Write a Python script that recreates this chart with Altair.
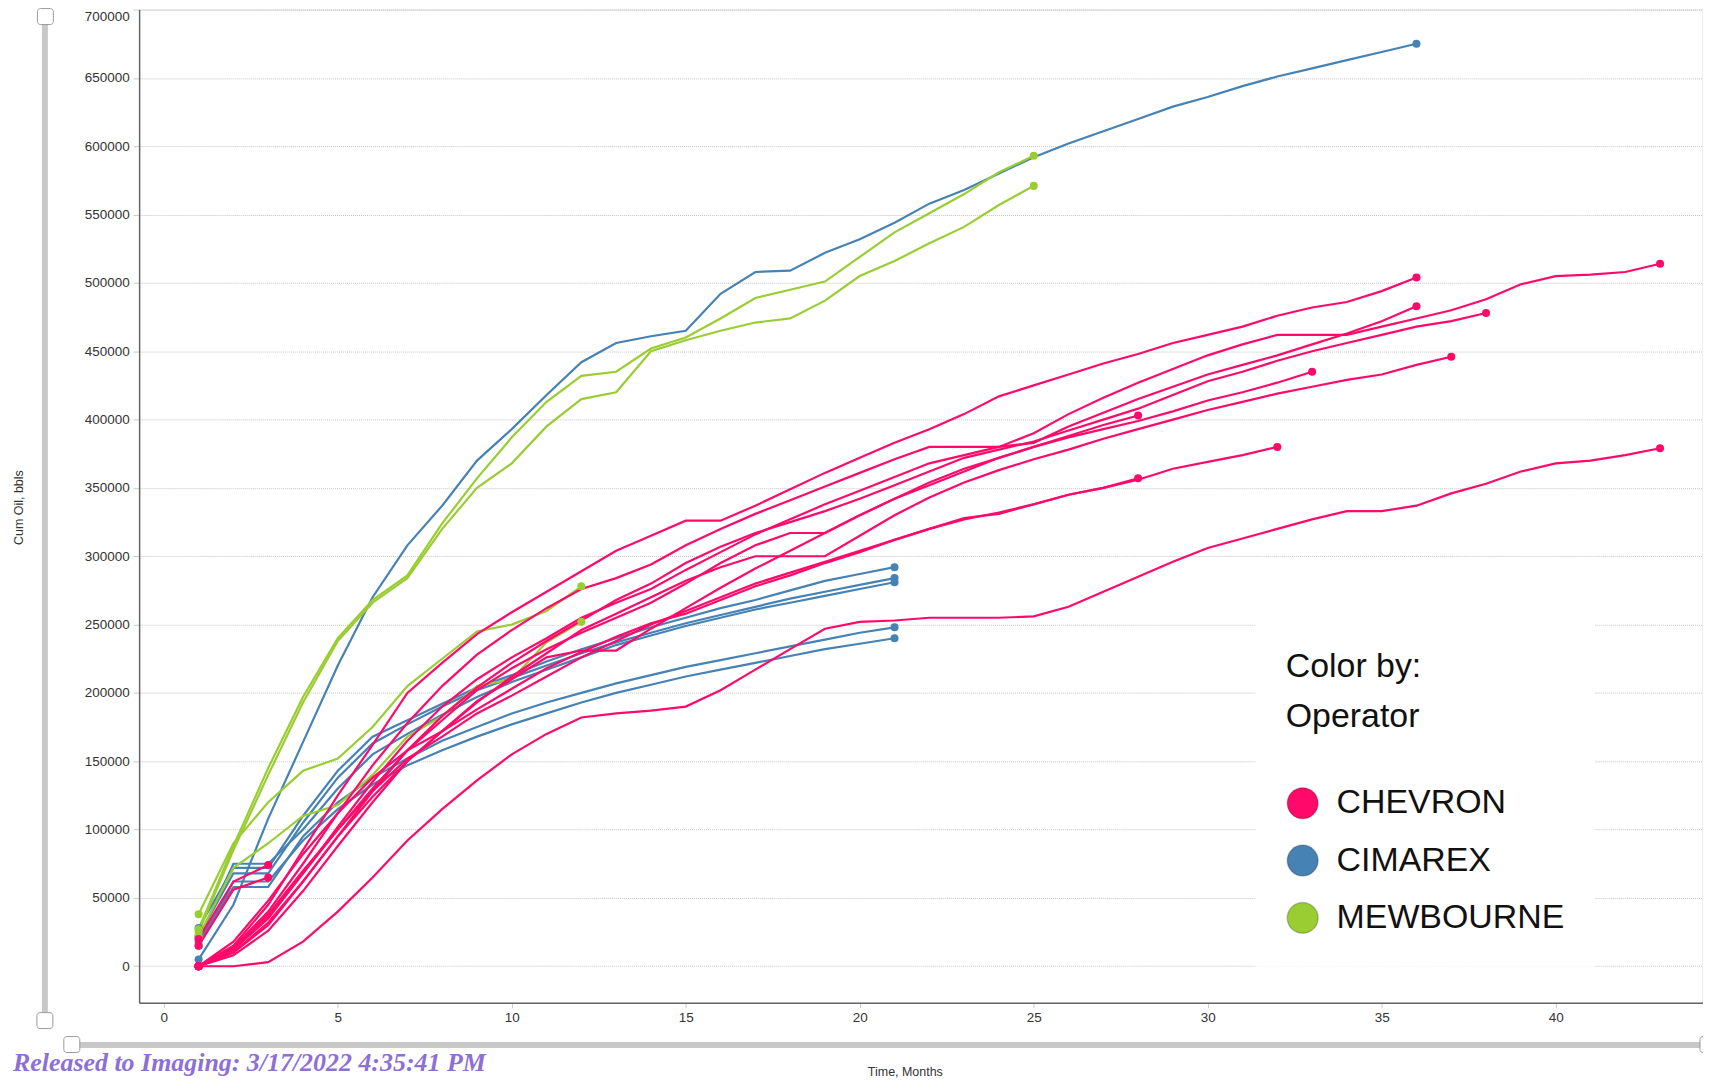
import altair as alt
import pandas as pd

# ---------------- data (thousand bbls, month 1..n) ----------------
operators = ["CHEVRON", "CIMAREX", "MEWBOURNE"]
op_colors = ["#FF0A6A", "#4682B4", "#9ACD32"]

chevron_1 = [0, 15, 45, 85, 125, 162, 200, 222, 243, 259, 274, 289, 304, 315, 326, 326, 337, 349, 361, 372,
             383, 393, 404, 417, 425, 433, 441, 448, 456, 462, 468, 476, 482, 486, 494, 504]
chevron_2 = [0, 14, 40, 75, 112, 147, 178, 205, 228, 246, 262, 276, 284, 294, 308, 320, 331, 341, 351, 361,
             371, 380, 380, 380, 383, 395, 405, 415, 424, 433, 440, 447, 455, 463, 472, 483]
chevron_3 = [0, 10, 30, 62, 95, 128, 158, 183, 204, 222, 238, 253, 268, 280, 295, 307, 317, 325, 333, 342,
             352, 362, 372, 378, 384, 392, 400, 408, 418, 428, 435, 443, 450, 456, 462, 468, 472, 478]
chevron_4 = [0, 12, 36, 68, 102, 135, 165, 190, 210, 226, 240, 255, 266, 276, 290, 303, 316, 327, 338, 348,
             358, 368, 374, 380, 390, 404, 416, 427, 437, 447, 455, 462, 462, 462, 468, 474, 480, 488, 499, 505,
             506, 508, 514]
chevron_5 = [0, 8, 26, 55, 88, 120, 150, 172, 193, 212, 229, 246, 258, 270, 282, 292, 300, 300, 300, 315,
             330, 343, 354, 363, 371, 378, 386, 393, 400, 407, 413, 419, 424, 429, 433, 440, 446]
chevron_6 = [0, 12, 35, 68, 100, 130, 158, 180, 202, 218, 232, 244, 255, 266, 280, 295, 308, 317, 317, 330,
             342, 354, 364, 372, 380, 387, 393, 399, 406, 414, 420, 427, 435]
chevron_7 = [0, 10, 32, 62, 95, 124, 150, 172, 194, 210, 226, 231, 231, 247, 262, 277, 291, 304, 317, 330,
             342, 352, 362, 372, 380, 388, 396, 403]
chevron_8 = [0, 18, 48, 82, 112, 138, 158, 172, 188, 203, 218, 230, 241, 251, 258, 268, 278, 286, 295, 303,
             312, 320, 328, 331, 338, 345, 350, 357]
chevron_9 = [0, 13, 38, 70, 100, 128, 152, 168, 185, 198, 212, 226, 238, 250, 260, 270, 280, 288, 296, 304,
             312, 320, 327, 332, 338, 345, 350, 356, 364, 369, 374, 380]
chevron_10 = [0, 0, 3, 18, 40, 65, 92, 115, 136, 155, 170, 182, 185, 187, 190, 202, 217, 232, 247, 252,
              253, 255, 255, 255, 256, 263, 274, 285, 296, 306, 313, 320, 327, 333, 333, 337, 346, 353, 362, 368,
              370, 374, 379]
chevron_11 = [20, 62, 74]
chevron_12 = [15, 56, 65]

cimarex_1 = [5, 45, 108, 164, 220, 270, 308, 337, 370, 393, 418, 442, 456, 461, 465, 492, 508, 509, 522, 532,
             544, 558, 568, 580, 592, 602, 611, 620, 629, 636, 644, 651, 657, 663, 669, 675]
cimarex_2 = [28, 72, 72, 110, 143, 168, 180, 192, 204, 213, 223, 232, 240, 248, 255, 262, 268, 275, 282, 287, 292]
cimarex_3 = [22, 68, 68, 105, 138, 163, 177, 190, 202, 211, 220, 229, 237, 244, 251, 257, 263, 269, 274, 279, 284]
cimarex_4 = [20, 75, 75, 100, 130, 155, 170, 184, 197, 208, 217, 226, 235, 242, 249, 255, 261, 266, 271, 276, 281]
cimarex_5 = [18, 58, 58, 95, 120, 138, 152, 165, 175, 185, 193, 200, 207, 213, 219, 224, 229, 234, 239, 244, 248]
cimarex_6 = [15, 62, 62, 92, 115, 133, 147, 158, 168, 177, 185, 193, 200, 206, 212, 217, 222, 227, 232, 236, 240]

mewbourne_1 = [27, 88, 145, 197, 240, 268, 286, 324, 357, 387, 413, 432, 435, 452, 460, 474, 489, 495, 501, 519,
               537, 551, 565, 581, 593]
mewbourne_2 = [25, 85, 140, 193, 238, 266, 284, 320, 350, 368, 395, 415, 420, 450, 458, 465, 471, 474, 487, 505,
               516, 529, 541, 557, 571]
mewbourne_3 = [38, 90, 120, 143, 152, 175, 205, 225, 245, 250, 260, 278]
mewbourne_4 = [22, 72, 90, 110, 118, 140, 168, 183, 205, 210, 237, 252]

wells = {
    "CHEVRON": [chevron_1, chevron_2, chevron_3, chevron_4, chevron_5, chevron_6, chevron_7,
                chevron_8, chevron_9, chevron_10, chevron_11, chevron_12],
    "CIMAREX": [cimarex_1, cimarex_2, cimarex_3, cimarex_4, cimarex_5, cimarex_6],
    "MEWBOURNE": [mewbourne_1, mewbourne_2, mewbourne_3, mewbourne_4],
}

x_ticks = list(range(0, 45, 5))
y_ticks = list(range(0, 700001, 50000))

rows = []
for op in ["CIMAREX", "MEWBOURNE", "CHEVRON"]:
    for i, series in enumerate(wells[op]):
        for m, v in enumerate(series, start=1):
            rows.append({"operator": op, "well": f"{op}-{i+1}", "month": m, "oil": v * 1000,
                         "endpoint": m == 1 or m == len(series)})
df = pd.DataFrame(rows)
ends = df[df["endpoint"]]

# ---------------- chart ----------------
FONT = "Liberation Sans"
PLOT_W, PLOT_H = 1568, 996

xenc = alt.X("month:Q",
             scale=alt.Scale(domain=[-0.71, 44.22], nice=False, zero=False),
             axis=alt.Axis(values=x_ticks, title="Time, Months", labelFlush=False, grid=False,
                           domainColor="#666666", domainWidth=1.5, tickColor="#cccccc", tickSize=5,
                           labelPadding=3, labelFont=FONT, labelFontSize=13.5, labelColor="#333333",
                           titleFont=FONT, titleFontSize=12.5, titleFontWeight="normal", titleColor="#333333",
                           titleX=768, titleY=73, titleBaseline="alphabetic", titleAlign="center"))
yenc = alt.Y("oil:Q",
             scale=alt.Scale(domain=[-26640, 700000], nice=False, zero=False),
             axis=alt.Axis(values=y_ticks, format="d", title="Cum Oil, bbls", grid=True,
                           gridColor="#c4c4c4", gridDash=[1, 1], gridWidth=1,
                           domainColor="#666666", domainWidth=1.5, tickColor="#cccccc", tickSize=6,
                           labelPadding=4, labelFlush=True, labelFont=FONT, labelFontSize=13.5,
                           labelColor="#333333", titleFont=FONT, titleFontSize=12.5,
                           titleFontWeight="normal", titleColor="#333333", titleX=-120.5, titleY=499,
                           titleAngle=270, titleAlign="center", titleBaseline="middle"))
color_scale = alt.Scale(domain=operators, range=op_colors)

lines = alt.Chart(df).mark_line(strokeWidth=2.2).encode(
    x=xenc, y=yenc,
    color=alt.Color("operator:N", scale=color_scale, legend=None),
    detail="well:N",
    order="month:Q",
)

points = alt.Chart(ends).mark_circle(size=65, opacity=1).encode(
    x=xenc, y=yenc,
    color=alt.Color("operator:N", scale=color_scale,
                    legend=alt.Legend(title=["Color by:", "Operator"], orient="none",
                                      legendX=1120, legendY=612, padding=30, fillColor="white",
                                      titleFont=FONT, titleFontSize=34, titleFontWeight="normal",
                                      titleColor="#111111", titleLineHeight=51, titlePadding=52,
                                      labelFont=FONT, labelFontSize=34, labelColor="#111111",
                                      labelOffset=17, symbolType="circle", symbolSize=962,
                                      rowPadding=19.5, symbolStrokeWidth=1.5,
                                      symbolStrokeColor="rgba(0,0,0,0.2)", labelLimit=400)),
)

one = pd.DataFrame({"k": [0]})
vbar = alt.Chart(one).mark_rule(color="#c8c8c8", strokeWidth=6).encode(
    x=alt.value(-94.5), y=alt.value(7), y2=alt.value(1014))
hbar = alt.Chart(one).mark_rule(color="#c8c8c8", strokeWidth=6).encode(
    x=alt.value(-67.5), x2=alt.value(1572), y=alt.value(1038.5))
handle_style = dict(cornerRadius=3, fill="white", stroke="#9a9a9a", strokeWidth=1)
h1 = alt.Chart(one).mark_rect(**handle_style).encode(
    x=alt.value(-102), x2=alt.value(-86), y=alt.value(-1), y2=alt.value(15))
h2 = alt.Chart(one).mark_rect(**handle_style).encode(
    x=alt.value(-102.5), x2=alt.value(-86.5), y=alt.value(1006), y2=alt.value(1022))
h3 = alt.Chart(one).mark_rect(**handle_style).encode(
    x=alt.value(-75.5), x2=alt.value(-59.5), y=alt.value(1030), y2=alt.value(1046))
h4 = alt.Chart(one).mark_rect(**handle_style).encode(
    x=alt.value(1565.5), x2=alt.value(1581.5), y=alt.value(1030), y2=alt.value(1046))

chart = alt.layer(lines, points, vbar, hbar, h1, h2, h3, h4).properties(
    width=PLOT_W, height=PLOT_H,
    title=alt.TitleParams(text="Released to Imaging: 3/17/2022 4:35:41 PM", orient="bottom",
                          anchor="start", frame="group", font="Liberation Serif", fontSize=26,
                          fontStyle="italic", fontWeight="bold", color="#8C6FD9",
                          dx=-126.5, dy=-28, offset=0),
    autosize=alt.AutoSizeParams(type="none"),
    padding={"left": 131.5, "top": 0, "right": 0.5, "bottom": 80},
).resolve_legend(color="independent").configure_view(stroke=None).configure(background="white")

chart.save("out.html", embed_options={"renderer": "svg", "actions": False})
